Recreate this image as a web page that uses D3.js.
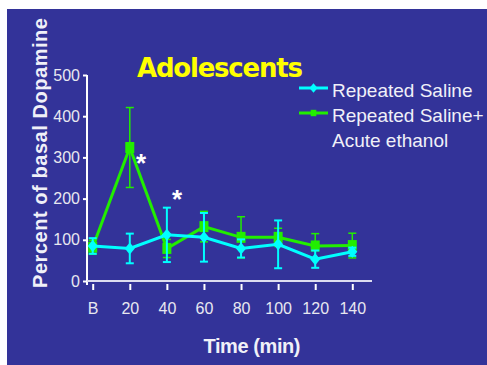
<!DOCTYPE html>
<html>
<head>
<meta charset="utf-8">
<script src="https://cdn.jsdelivr.net/npm/d3@7"></script>
<style>
  body { margin: 0; background: #fff; }
  svg { display: block; }
</style>
</head>
<body>
<svg width="487" height="365"></svg>
<script>
// time points and y ticks
var times = ["B", "20", "40", "60", "80", "100", "120", "140"];
var yTicks = [0, 100, 200, 300, 400, 500];

// Repeated Saline (mean, sem)
var salineMean = [85, 79, 112, 106, 79, 89, 53, 71];
var salineErr  = [19, 36, 66, 59, 22, 58, 21, 10];

// Repeated Saline + Acute ethanol
var ethanolMean = [82, 324, 79, 132, 106, 106, 85, 86];
var ethanolErr  = [17, 97, 22, 37, 50, 22, 30, 30];

var seriesNames = ["Repeated Saline", "Repeated Saline+", "Acute ethanol"];

var svg = d3.select("svg");

svg.append("rect")
  .attr("x", 7).attr("y", 9)
  .attr("width", 480).attr("height", 356)
  .attr("fill", "#333399");

var x = d3.scalePoint()
  .domain(times)
  .range([92.7, 352.3]);

var y = d3.scaleLinear()
  .domain([0, 500])
  .range([281, 75]);

var font = "'Liberation Sans', Arial, sans-serif";

// y axis
var yAxis = svg.append("g")
  .attr("transform", "translate(87,0)")
  .call(d3.axisLeft(y).tickValues(yTicks).tickSize(4).tickPadding(3));
yAxis.select(".domain").attr("stroke", "#fff").attr("stroke-width", 2)
  .attr("d", "M0,75V285");
yAxis.selectAll(".tick line").attr("stroke", "#fff").attr("stroke-width", 2);
yAxis.selectAll(".tick text")
  .attr("fill", "#e8e8f0")
  .style("font-family", font)
  .style("font-size", "16px");

// x axis
var xAxis = svg.append("g")
  .attr("transform", "translate(0,281)")
  .call(d3.axisBottom(x).tickSize(0).tickPadding(0));
xAxis.select(".domain").remove();
svg.append("line")
  .attr("x1", 87).attr("x2", 372)
  .attr("y1", 281).attr("y2", 281)
  .attr("stroke", "#dcdcf0").attr("stroke-width", 2);
xAxis.selectAll(".tick").append("line")
  .attr("y1", 3).attr("y2", 9)
  .attr("stroke", "#fff").attr("stroke-width", 2);
xAxis.selectAll(".tick text")
  .attr("y", 22)
  .attr("dy", "0.71em")
  .attr("fill", "#e8e8f0")
  .style("font-family", font)
  .style("font-size", "16px");

// axis titles
svg.append("text")
  .attr("transform", "translate(47,153) rotate(-90)")
  .attr("text-anchor", "middle")
  .attr("fill", "#f0f0f8")
  .style("font-family", font)
  .style("font-weight", "bold")
  .style("font-size", "20px")
  .attr("textLength", 270)
  .text("Percent of basal Dopamine");

svg.append("text")
  .attr("x", 252).attr("y", 353)
  .attr("text-anchor", "middle")
  .attr("fill", "#f0f0f8")
  .style("font-family", font)
  .style("font-weight", "bold")
  .style("font-size", "20px")
  .attr("textLength", 97)
  .text("Time (min)");

// title
svg.append("text")
  .attr("x", 220).attr("y", 77)
  .attr("text-anchor", "middle")
  .attr("fill", "#ffff00")
  .style("font-family", "'Comic Sans MS', 'DejaVu Sans', sans-serif")
  .style("font-weight", "bold")
  .style("font-size", "26px")
  .attr("textLength", 166)
  .text("Adolescents");

function drawSeries(mean, err, color, marker, errW) {
  var g = svg.append("g");
  var pts = times.map(function(t, i) { return {t: t, m: mean[i], e: err[i]}; });

  var eb = g.selectAll(".eb").data(pts).enter().append("g");
  eb.append("line")
    .attr("x1", function(d) { return x(d.t); })
    .attr("x2", function(d) { return x(d.t); })
    .attr("y1", function(d) { return y(d.m + d.e); })
    .attr("y2", function(d) { return y(d.m - d.e); })
    .attr("stroke", color).attr("stroke-width", errW);
  [1, -1].forEach(function(s) {
    eb.append("line")
      .attr("x1", function(d) { return x(d.t) - 4; })
      .attr("x2", function(d) { return x(d.t) + 4; })
      .attr("y1", function(d) { return y(d.m + s * d.e); })
      .attr("y2", function(d) { return y(d.m + s * d.e); })
      .attr("stroke", color).attr("stroke-width", errW);
  });

  g.append("path")
    .datum(pts)
    .attr("fill", "none")
    .attr("stroke", color)
    .attr("stroke-width", 3)
    .attr("d", d3.line()
      .x(function(d) { return x(d.t); })
      .y(function(d) { return y(d.m); }));

  g.selectAll(".mk").data(pts).enter().append("path")
    .attr("transform", function(d) { return "translate(" + x(d.t) + "," + y(d.m) + ")"; })
    .attr("d", marker)
    .attr("fill", color);
}

var diamond = "M0,-6L5,0L0,6L-5,0Z";
var square = "M-4.5,-5.5H4.5V5.5H-4.5Z";

drawSeries(ethanolMean, ethanolErr, "#22ee00", square, 1.5);
drawSeries(salineMean, salineErr, "#00ffff", diamond, 2);

// significance stars
[[1, 141, 172], [2, 177, 208]].forEach(function(s) {
  svg.append("text")
    .attr("x", s[1]).attr("y", s[2])
    .attr("text-anchor", "middle")
    .attr("fill", "#fff")
    .style("font-family", font)
    .style("font-weight", "bold")
    .style("font-size", "26px")
    .text("*");
});

// legend
var leg = svg.append("g");
[["#00ffff", diamond, 88], ["#22ee00", "M-3.5,-4H3.5V4H-3.5Z", 113]].forEach(function(l) {
  leg.append("line")
    .attr("x1", 299).attr("x2", 328)
    .attr("y1", l[2]).attr("y2", l[2])
    .attr("stroke", l[0]).attr("stroke-width", 3);
  leg.append("path")
    .attr("transform", "translate(313.5," + l[2] + ") scale(0.8)")
    .attr("d", l[1])
    .attr("fill", l[0]);
});
seriesNames.forEach(function(n, i) {
  leg.append("text")
    .attr("x", 332).attr("y", 97 + i * 25)
    .attr("fill", "#f0f0f8")
    .style("font-family", font)
    .style("font-size", "19px")
    .text(n);
});
</script>
</body>
</html>
